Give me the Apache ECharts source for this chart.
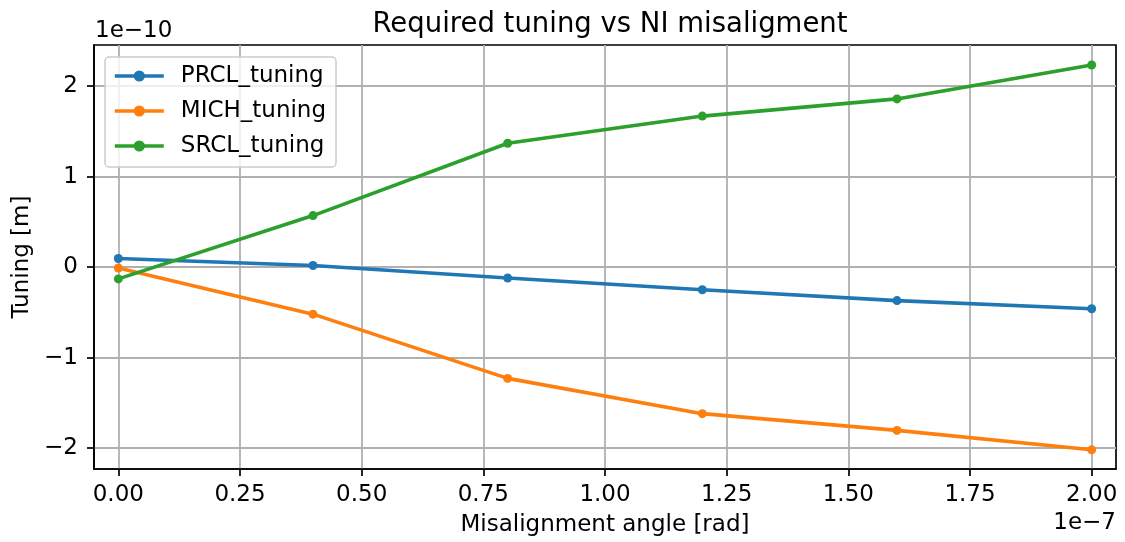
<!DOCTYPE html>
<html>
<head>
<meta charset="utf-8">
<script src="https://cdn.jsdelivr.net/npm/echarts@6/dist/echarts.min.js"></script>
<style>
  html, body { margin: 0; padding: 0; background: #fff; }
  #chart { width: 1125px; height: 542px; }
</style>
</head>
<body>
<div id="chart"></div>
<script>
// Misalignment angle, in units of 1e-7 rad
const angles = [0.0, 0.4, 0.8, 1.2, 1.6, 2.0];
// Required tuning, in units of 1e-10 m
const prclTuning = [0.095, 0.018, -0.12, -0.25, -0.37, -0.46];
const michTuning = [-0.01, -0.52, -1.23, -1.62, -1.805, -2.02];
const srclTuning = [-0.13, 0.57, 1.37, 1.67, 1.86, 2.235];

const seriesNames = ['PRCL_tuning', 'MICH_tuning', 'SRCL_tuning'];
const seriesColors = ['#1f77b4', '#ff7f0e', '#2ca02c'];

const xTicks = [0, 0.25, 0.5, 0.75, 1.0, 1.25, 1.5, 1.75, 2.0];
const yTicks = [-2, -1, 0, 1, 2];

const FONT = 'DejaVu Sans';
const FS = 23;

function pairs(ys) {
  return angles.map((x, i) => [x, ys[i]]);
}

const chart = echarts.init(document.getElementById('chart'), null, { renderer: 'canvas' });

const gridLine = { show: true, lineStyle: { color: '#b0b0b0', width: 1.8 } };
const spine = { color: '#000', width: 1.7 };

chart.setOption({
  animation: false,
  backgroundColor: '#ffffff',
  title: {
    text: 'Required tuning vs NI misaligment',
    left: 605, top: 6, textAlign: 'center',
    textStyle: { fontFamily: FONT, fontSize: 27.5, fontWeight: 'normal', color: '#000' }
  },
  grid: { left: 94, right: 9, top: 45, bottom: 73, containLabel: false,
    show: true, borderColor: '#000', borderWidth: 1.7, backgroundColor: 'transparent' },
  xAxis: {
    type: 'value', min: -0.05, max: 2.05,
    name: 'Misalignment angle [rad]', nameLocation: 'middle', nameGap: 45,
    nameTextStyle: { fontFamily: FONT, fontSize: FS, color: '#000' },
    axisLine: { show: true, onZero: false, lineStyle: spine },
    axisTick: { show: true, length: 7, inside: false, customValues: xTicks, lineStyle: spine },
    axisLabel: { customValues: xTicks, margin: 15, fontFamily: FONT, fontSize: FS, color: '#000',
      formatter: v => v.toFixed(2) },
    splitLine: gridLine
  },
  yAxis: {
    type: 'value', min: -2.232, max: 2.456,
    name: 'Tuning [m]', nameLocation: 'middle', nameGap: 59, nameRotate: 90,
    nameTextStyle: { fontFamily: FONT, fontSize: FS, color: '#000' },
    axisLine: { show: true, onZero: false, lineStyle: spine },
    axisTick: { show: true, length: 7, inside: false, customValues: yTicks, lineStyle: spine },
    axisLabel: { customValues: yTicks, margin: 16, fontFamily: FONT, fontSize: FS, color: '#000',
      formatter: v => (v < 0 ? '\u2212' + Math.abs(v) : String(v)) },
    splitLine: gridLine
  },
  legend: {
    orient: 'vertical', left: 105, top: 57,
    itemWidth: 49, itemHeight: 14, itemGap: 9,
    padding: [6, 10, 8, 8],
    backgroundColor: 'rgba(255,255,255,0.8)',
    borderColor: '#cccccc', borderWidth: 1.5, borderRadius: 4,
    lineStyle: { width: 3.6 },
    textStyle: { fontFamily: FONT, fontSize: FS, color: '#000', lineHeight: 26, padding: [0, 0, 0, 12] },
    data: seriesNames
  },
  graphic: [
    { type: 'text', left: 95, top: 20, style: { text: '1e\u221210', font: FS + 'px "DejaVu Sans"', fill: '#000' } },
    { type: 'text', right: 9, top: 512, style: { text: '1e\u22127', font: FS + 'px "DejaVu Sans"', fill: '#000' } }
  ],
  series: [prclTuning, michTuning, srclTuning].map((ys, i) => ({
    name: seriesNames[i],
    type: 'line',
    data: pairs(ys),
    color: seriesColors[i],
    symbol: 'circle', symbolSize: 9, showSymbol: true,
    lineStyle: { width: 3.6, color: seriesColors[i] },
    itemStyle: { color: seriesColors[i] },
    z: 3 + i
  }))
});
</script>
</body>
</html>
